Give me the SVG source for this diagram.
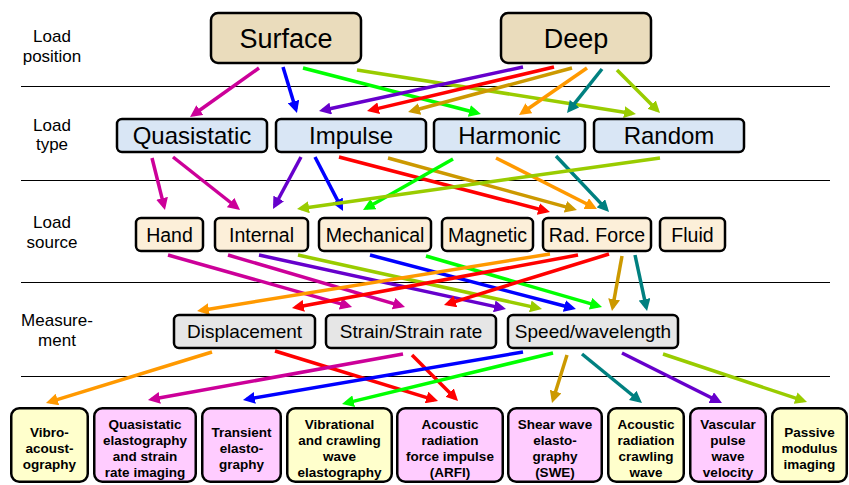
<svg xmlns="http://www.w3.org/2000/svg" width="849" height="485" viewBox="0 0 849 485">
<style>
text{font-family:"Liberation Sans",Arial,sans-serif;fill:#000;text-anchor:middle}
.lbl{font-size:17px}
.box{stroke:#000;stroke-width:2.5}
.pos{fill:#eadcbc}
.typ{fill:#d9e6f5}
.src{fill:#fcefd9}
.mea{fill:#e6e6e6}
.yel{fill:#ffffcc}
.pnk{fill:#ffccff}
.t1{font-size:27px}
.t2{font-size:24px}
.t3{font-size:19.5px}
.t4{font-size:19px}
.t5{font-size:13.5px;font-weight:bold}
.sep{stroke:#000;stroke-width:1}
#connectors line{stroke-width:3.5;fill:none}
.mg{stroke:#cc0099}.bl{stroke:#0000ff}.gr{stroke:#00ff00}.yg{stroke:#99cc00}.pu{stroke:#6600cc}.rd{stroke:#ff0000}.gd{stroke:#cc9900}.or{stroke:#ff9900}.te{stroke:#008080}
</style>
<defs>
<marker id="m-mg" viewBox="0 0 12 12" refX="8" refY="6" markerWidth="12" markerHeight="12" markerUnits="userSpaceOnUse" orient="auto"><path d="M0,0 L12,6 L0,12 z" fill="#cc0099"/></marker>
<marker id="m-bl" viewBox="0 0 12 12" refX="8" refY="6" markerWidth="12" markerHeight="12" markerUnits="userSpaceOnUse" orient="auto"><path d="M0,0 L12,6 L0,12 z" fill="#0000ff"/></marker>
<marker id="m-gr" viewBox="0 0 12 12" refX="8" refY="6" markerWidth="12" markerHeight="12" markerUnits="userSpaceOnUse" orient="auto"><path d="M0,0 L12,6 L0,12 z" fill="#00ff00"/></marker>
<marker id="m-yg" viewBox="0 0 12 12" refX="8" refY="6" markerWidth="12" markerHeight="12" markerUnits="userSpaceOnUse" orient="auto"><path d="M0,0 L12,6 L0,12 z" fill="#99cc00"/></marker>
<marker id="m-pu" viewBox="0 0 12 12" refX="8" refY="6" markerWidth="12" markerHeight="12" markerUnits="userSpaceOnUse" orient="auto"><path d="M0,0 L12,6 L0,12 z" fill="#6600cc"/></marker>
<marker id="m-rd" viewBox="0 0 12 12" refX="8" refY="6" markerWidth="12" markerHeight="12" markerUnits="userSpaceOnUse" orient="auto"><path d="M0,0 L12,6 L0,12 z" fill="#ff0000"/></marker>
<marker id="m-gd" viewBox="0 0 12 12" refX="8" refY="6" markerWidth="12" markerHeight="12" markerUnits="userSpaceOnUse" orient="auto"><path d="M0,0 L12,6 L0,12 z" fill="#cc9900"/></marker>
<marker id="m-or" viewBox="0 0 12 12" refX="8" refY="6" markerWidth="12" markerHeight="12" markerUnits="userSpaceOnUse" orient="auto"><path d="M0,0 L12,6 L0,12 z" fill="#ff9900"/></marker>
<marker id="m-te" viewBox="0 0 12 12" refX="8" refY="6" markerWidth="12" markerHeight="12" markerUnits="userSpaceOnUse" orient="auto"><path d="M0,0 L12,6 L0,12 z" fill="#008080"/></marker>
</defs>
<rect width="849" height="485" fill="#fff"/>

<g id="row-labels">
<text class="lbl" x="52" y="42">Load</text><text class="lbl" x="52" y="62">position</text>
<text class="lbl" x="52" y="131">Load</text><text class="lbl" x="52" y="150">type</text>
<text class="lbl" x="52" y="228">Load</text><text class="lbl" x="52" y="248">source</text>
<text class="lbl" x="57" y="326">Measure-</text><text class="lbl" x="57" y="346">ment</text>
</g>

<g id="separators">
<line class="sep" x1="21" y1="86.5" x2="830" y2="86.5"/>
<line class="sep" x1="21" y1="180.5" x2="830" y2="180.5"/>
<line class="sep" x1="21" y1="282.5" x2="830" y2="282.5"/>
<line class="sep" x1="21" y1="376.5" x2="830" y2="376.5"/>
</g>

<g id="connectors">
<line class="mg" x1="259" y1="68" x2="193.3" y2="114.7" marker-end="url(#m-mg)"/>
<line class="bl" x1="283" y1="67" x2="295.8" y2="109.2" marker-end="url(#m-bl)"/>
<line class="gr" x1="303" y1="68" x2="477.1" y2="113" marker-end="url(#m-gr)"/>
<line class="yg" x1="357" y1="70" x2="632" y2="113.4" marker-end="url(#m-yg)"/>
<line class="pu" x1="523" y1="67" x2="322.9" y2="110.2" marker-end="url(#m-pu)"/>
<line class="rd" x1="554" y1="67" x2="370.9" y2="110.1" marker-end="url(#m-rd)"/>
<line class="gd" x1="572" y1="68" x2="411.9" y2="111" marker-end="url(#m-gd)"/>
<line class="or" x1="587" y1="68" x2="522.3" y2="112.7" marker-end="url(#m-or)"/>
<line class="te" x1="602" y1="69" x2="569.5" y2="109.9" marker-end="url(#m-te)"/>
<line class="yg" x1="617" y1="70" x2="657.2" y2="110.2" marker-end="url(#m-yg)"/>

<line class="mg" x1="152" y1="158" x2="164" y2="206.1" marker-end="url(#m-mg)"/>
<line class="mg" x1="173" y1="157" x2="236.9" y2="207.5" marker-end="url(#m-mg)"/>
<line class="pu" x1="301" y1="157" x2="274.9" y2="205.5" marker-end="url(#m-pu)"/>
<line class="bl" x1="315" y1="157" x2="341.2" y2="207.4" marker-end="url(#m-bl)"/>
<line class="rd" x1="339" y1="157" x2="546.1" y2="211" marker-end="url(#m-rd)"/>
<line class="gd" x1="388" y1="158" x2="573.1" y2="208.9" marker-end="url(#m-gd)"/>
<line class="gr" x1="453" y1="159" x2="366.5" y2="208" marker-end="url(#m-gr)"/>
<line class="or" x1="496" y1="158" x2="593.4" y2="207.2" marker-end="url(#m-or)"/>
<line class="te" x1="556" y1="156" x2="606.3" y2="209.1" marker-end="url(#m-te)"/>
<line class="yg" x1="660" y1="158" x2="301" y2="208.4" marker-end="url(#m-yg)"/>

<line class="mg" x1="168" y1="255" x2="348.2" y2="305.9" marker-end="url(#m-mg)"/>
<line class="mg" x1="228" y1="255" x2="401.2" y2="305.9" marker-end="url(#m-mg)"/>
<line class="pu" x1="259" y1="255" x2="502.1" y2="308.1" marker-end="url(#m-pu)"/>
<line class="yg" x1="298" y1="255" x2="538.1" y2="308.1" marker-end="url(#m-yg)"/>
<line class="bl" x1="370" y1="255" x2="572.1" y2="308" marker-end="url(#m-bl)"/>
<line class="gr" x1="426" y1="256" x2="598.2" y2="305.9" marker-end="url(#m-gr)"/>
<line class="or" x1="550" y1="254" x2="201" y2="310.4" marker-end="url(#m-or)"/>
<line class="rd" x1="578" y1="255" x2="295.9" y2="307.3" marker-end="url(#m-rd)"/>
<line class="rd" x1="609" y1="254" x2="447.8" y2="303.8" marker-end="url(#m-rd)"/>
<line class="gd" x1="622" y1="256" x2="612.7" y2="307.1" marker-end="url(#m-gd)"/>
<line class="te" x1="635" y1="255" x2="646.2" y2="307.1" marker-end="url(#m-te)"/>

<line class="or" x1="212" y1="352" x2="49.8" y2="401.8" marker-end="url(#m-or)"/>
<line class="rd" x1="275" y1="351" x2="434.2" y2="399.8" marker-end="url(#m-rd)"/>
<line class="mg" x1="403" y1="354" x2="151.9" y2="399.3" marker-end="url(#m-mg)"/>
<line class="rd" x1="412" y1="355" x2="455.2" y2="398.2" marker-end="url(#m-rd)"/>
<line class="bl" x1="523" y1="352" x2="246.9" y2="399.3" marker-end="url(#m-bl)"/>
<line class="gr" x1="553" y1="353" x2="345.9" y2="403.1" marker-end="url(#m-gr)"/>
<line class="gd" x1="567" y1="355" x2="553.2" y2="399.2" marker-end="url(#m-gd)"/>
<line class="te" x1="582" y1="354" x2="638.9" y2="400.5" marker-end="url(#m-te)"/>
<line class="pu" x1="622" y1="353" x2="718.4" y2="401.2" marker-end="url(#m-pu)"/>
<line class="yg" x1="663" y1="354" x2="803.2" y2="400.7" marker-end="url(#m-yg)"/>
</g>

<g id="surface"><rect class="box pos" x="211" y="13" width="150" height="50" rx="7"/><text class="t1" x="286" y="48">Surface</text></g>
<g id="deep"><rect class="box pos" x="501" y="13" width="150" height="50" rx="7"/><text class="t1" x="576" y="48">Deep</text></g>

<g id="quasistatic"><rect class="box typ" x="117" y="119" width="150" height="33" rx="5"/><text class="t2" x="192" y="144">Quasistatic</text></g>
<g id="impulse"><rect class="box typ" x="276" y="119" width="150" height="33" rx="5"/><text class="t2" x="351" y="144">Impulse</text></g>
<g id="harmonic"><rect class="box typ" x="434" y="119" width="151" height="33" rx="5"/><text class="t2" x="509.5" y="144">Harmonic</text></g>
<g id="random"><rect class="box typ" x="594" y="119" width="150" height="33" rx="5"/><text class="t2" x="669" y="144">Random</text></g>

<g id="hand"><rect class="box src" x="136" y="218" width="67" height="33" rx="5"/><text class="t3" x="169.5" y="241.5">Hand</text></g>
<g id="internal"><rect class="box src" x="215" y="218" width="93" height="33" rx="5"/><text class="t3" x="261.5" y="241.5">Internal</text></g>
<g id="mechanical"><rect class="box src" x="319" y="218" width="112" height="33" rx="5"/><text class="t3" x="375" y="241.5">Mechanical</text></g>
<g id="magnetic"><rect class="box src" x="442" y="218" width="91" height="33" rx="5"/><text class="t3" x="487.5" y="241.5">Magnetic</text></g>
<g id="radforce"><rect class="box src" x="543" y="218" width="108" height="33" rx="5"/><text class="t3" x="597" y="241.5">Rad. Force</text></g>
<g id="fluid"><rect class="box src" x="660" y="218" width="65" height="33" rx="5"/><text class="t3" x="692.5" y="241.5">Fluid</text></g>

<g id="displacement"><rect class="box mea" x="174" y="315" width="141" height="33" rx="5"/><text class="t4" x="244.5" y="338">Displacement</text></g>
<g id="strain"><rect class="box mea" x="326" y="315" width="170" height="33" rx="5"/><text class="t4" x="411" y="338">Strain/Strain rate</text></g>
<g id="speed"><rect class="box mea" x="508" y="315" width="170" height="33" rx="5"/><text class="t4" x="593" y="338">Speed/wavelength</text></g>

<g id="vibroacoustography"><rect class="box yel" x="11.25" y="408.25" width="76.5" height="73.5" rx="8"/><text class="t5" x="49.5" y="436.6">Vibro-</text><text class="t5" x="49.5" y="452.8">acoust-</text><text class="t5" x="49.5" y="469">ography</text></g>
<g id="quasistatic-elastography"><rect class="box pnk" x="94.25" y="408.25" width="101.5" height="73.5" rx="8"/><text class="t5" x="145" y="428.5">Quasistatic</text><text class="t5" x="145" y="444.7">elastography</text><text class="t5" x="145" y="460.9">and strain</text><text class="t5" x="145" y="477.1">rate imaging</text></g>
<g id="transient"><rect class="box pnk" x="202.25" y="408.25" width="78.5" height="73.5" rx="8"/><text class="t5" x="241.5" y="436.6">Transient</text><text class="t5" x="241.5" y="452.8">elasto-</text><text class="t5" x="241.5" y="469">graphy</text></g>
<g id="vibrational"><rect class="box yel" x="287.25" y="408.25" width="104.5" height="73.5" rx="8"/><text class="t5" x="339.5" y="428.5">Vibrational</text><text class="t5" x="339.5" y="444.7">and crawling</text><text class="t5" x="339.5" y="460.9">wave</text><text class="t5" x="339.5" y="477.1">elastography</text></g>
<g id="arfi"><rect class="box pnk" x="397.25" y="408.25" width="105.5" height="73.5" rx="8"/><text class="t5" x="450" y="428.5">Acoustic</text><text class="t5" x="450" y="444.7">radiation</text><text class="t5" x="450" y="460.9">force impulse</text><text class="t5" x="450" y="477.1">(ARFI)</text></g>
<g id="swe"><rect class="box pnk" x="508.25" y="408.25" width="93.5" height="73.5" rx="8"/><text class="t5" x="555" y="428.5">Shear wave</text><text class="t5" x="555" y="444.7">elasto-</text><text class="t5" x="555" y="460.9">graphy</text><text class="t5" x="555" y="477.1">(SWE)</text></g>
<g id="arcw"><rect class="box yel" x="608.25" y="408.25" width="75.5" height="73.5" rx="8"/><text class="t5" x="646" y="428.5">Acoustic</text><text class="t5" x="646" y="444.7">radiation</text><text class="t5" x="646" y="460.9">crawling</text><text class="t5" x="646" y="477.1">wave</text></g>
<g id="vascular"><rect class="box pnk" x="690.25" y="408.25" width="75.5" height="73.5" rx="8"/><text class="t5" x="728" y="428.5">Vascular</text><text class="t5" x="728" y="444.7">pulse</text><text class="t5" x="728" y="460.9">wave</text><text class="t5" x="728" y="477.1">velocity</text></g>
<g id="passive"><rect class="box yel" x="772.25" y="408.25" width="74.5" height="73.5" rx="8"/><text class="t5" x="809.5" y="436.6">Passive</text><text class="t5" x="809.5" y="452.8">modulus</text><text class="t5" x="809.5" y="469">imaging</text></g>
</svg>
